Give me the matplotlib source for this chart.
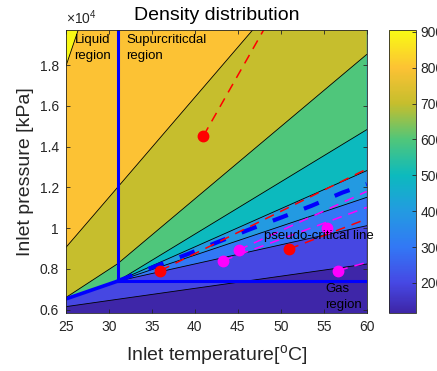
import numpy as np
import matplotlib.pyplot as plt
from matplotlib.colors import LinearSegmentedColormap, Normalize
from matplotlib.cm import ScalarMappable

plt.rcParams['font.family'] = ['Liberation Sans', 'DejaVu Sans']
plt.rcParams['mathtext.fontset'] = 'custom'
plt.rcParams['mathtext.rm'] = 'Liberation Sans'
plt.rcParams['lines.scale_dashes'] = False

# density contour levels [kg/m3] and colour range
levels = [200, 300, 400, 500, 600, 700, 800, 900]
rho_min, rho_max = 117, 905

# contour lines as pressure [kPa] at these temperatures [C]
T_nodes = [25, 31, 60]
P_200 = [6150, 6510, 8240]
P_300 = [6530, 7400, 10120]
P_400 = [6530, 7400, 11510]
P_500 = [6530, 7400, 12820]
P_600 = [6530, 7400, 14830]
P_700 = [6600, 8250, 18520]
P_800 = [9060, 12000, 26240]
P_900 = [17960, 25390, 61320]
contours = [P_200, P_300, P_400, P_500, P_600, P_700, P_800, P_900]

# critical point, saturation line, pseudo-critical line
T_crit, P_crit = 31.0, 7400
T_sat = [25, 31]
P_sat = [6530, 7400]
T_pc = [31, 35.5, 39.2, 42.8, 46.5, 50.1, 53.6, 57.2, 60]
P_pc = [7400, 8150, 8730, 9340, 9960, 10530, 11100, 11750, 12160]

# operating points
red_T = [41.0, 36.0, 51.0]
red_P = [14530, 7920, 8980]
mag_T = [43.3, 45.1, 55.4, 56.7]
mag_P = [8410, 8930, 10010, 7920]

# dashed paths from the points
red_paths = [([41.0, 50.0], [14530, 21200]),
             ([36.0, 60.0], [7920, 12900]),
             ([51.0, 60.0], [8980, 10450])]
mag_paths = [([43.3, 60.0], [8410, 11020]),
             ([45.1, 60.0], [8930, 11800]),
             ([56.7, 60.0], [7920, 8320])]

# parula-like colormap
cpos = [0.0, 0.105, 0.232, 0.359, 0.486, 0.613, 0.74, 0.867, 1.0]
crgb = [(62, 38, 168), (70, 72, 228), (50, 120, 245), (35, 155, 225),
        (12, 186, 190), (80, 198, 122), (197, 190, 45), (252, 194, 52),
        (249, 251, 20)]
cmap = LinearSegmentedColormap.from_list(
    'parula', [(p, tuple(c / 255 for c in rgb)) for p, rgb in zip(cpos, crgb)])
norm = Normalize(rho_min, rho_max)

gray = (0.15, 0.15, 0.15)
magenta = '#ff00ff'
fig = plt.figure(figsize=(4.37, 3.71), dpi=100)
ax = fig.add_axes([0.151, 0.157, 0.688, 0.762])
cax = fig.add_axes([0.891, 0.157, 0.060, 0.762])

top = 1e5
ax.fill_between([25, 60], 0, top, color=cmap(norm(rho_min)), lw=0)
for lev, P in zip(levels, contours):
    ax.fill_between(T_nodes, P, top, color=cmap(norm(lev)), lw=0)
for P in contours:
    ax.plot(T_nodes, P, color='k', lw=0.6)

# region boundaries
ax.plot([T_crit, T_crit], [P_crit, top], color='b', lw=2.2)
ax.plot([T_crit, 60], [P_crit, P_crit], color='b', lw=2.2)
ax.plot(T_sat, P_sat, color='b', lw=2.6)
ax.plot(T_pc, P_pc, color='b', lw=3, dashes=(11.5, 12.5))

for T, P in red_paths:
    ax.plot(T, P, color='r', lw=1.1, dashes=(7, 5))
for T, P in mag_paths:
    ax.plot(T, P, color=magenta, lw=1.1, dashes=(7, 5))
ax.plot(red_T, red_P, 'o', color='r', ms=7.5)
ax.plot(mag_T, mag_P, 'o', color=magenta, ms=7.5)

ax.text(26.0, 18840, 'Liquid\nregion', fontsize=9.5, va='center', linespacing=1.45)
ax.text(32.0, 18840, 'Supurcriticdal\nregion', fontsize=9.5, va='center', linespacing=1.45)
ax.text(48.0, 9630, 'pseudo-critical line', fontsize=9.5, va='center')
ax.text(55.2, 6610, 'Gas\nregion', fontsize=9.5, va='center', linespacing=1.45)

ax.set_xlim(25, 60)
ax.set_ylim(5850, 19720)
ax.set_xticks([25, 30, 35, 40, 45, 50, 55, 60])
ax.set_yticks([6000, 8000, 10000, 12000, 14000, 16000, 18000])
ax.set_yticklabels(['0.6', '0.8', '1', '1.2', '1.4', '1.6', '1.8'])
ax.tick_params(direction='in', length=3, top=True, right=True, labelsize=10,
               colors=gray, pad=5, width=0.6)
for s in ax.spines.values():
    s.set_color(gray)
    s.set_linewidth(0.6)
ax.text(0, 1.01, r'$\times10^{4}$', transform=ax.transAxes, ha='left',
        va='bottom', fontsize=10, color=gray)

ax.set_title('Density distribution', fontsize=14, pad=7)
ax.set_xlabel(r'Inlet temperature[$^{\mathrm{o}}$C]', fontsize=14, color=gray,
              labelpad=7)
ax.set_ylabel('Inlet pressure [kPa]', fontsize=14, color=gray)

sm = ScalarMappable(norm=norm, cmap=cmap)
cb = fig.colorbar(sm, cax=cax, ticks=levels)
cax.tick_params(direction='in', length=3, labelsize=10, colors=gray, width=0.6)
cb.outline.set_edgecolor(gray)
cb.outline.set_linewidth(0.6)

fig.savefig('out.png', dpi=100)
